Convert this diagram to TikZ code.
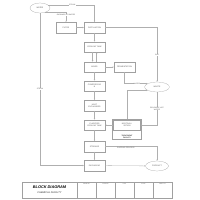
\documentclass[tikz,border=0pt]{standalone}
\usepackage{fontspec}
\setmainfont{Liberation Sans}
\usepackage{tikz}
\usetikzlibrary{shapes,arrows,positioning,fit,calc}
\definecolor{linecolor}{RGB}{175,175,175}
\definecolor{boxcolor}{RGB}{160,160,160}
\definecolor{textcolor}{RGB}{85,85,85}

\begin{document}
\begin{tikzpicture}[
    x=0.1cm, y=-0.1cm,
    unit/.style={rectangle, draw=boxcolor, line width=0.6pt, fill=white, minimum width=2.1cm, minimum height=1.05cm, inner sep=1pt, align=center, text=textcolor, font=\fontsize{5.5}{6}\selectfont},
    term/.style={ellipse, draw=boxcolor, line width=0.6pt, fill=white, minimum width=2.3cm, minimum height=1cm, inner sep=0pt, text=textcolor, font=\fontsize{5.5}{6}\selectfont},
    flow/.style={->, >=stealth, linecolor, line width=0.8pt},
    tag/.style={fill=white, inner sep=0.6pt, align=center, text=textcolor, font=\fontsize{5}{5.5}\selectfont}
]
\useasboundingbox (0,0) rectangle (200,200);

% Terminals
\node[term, minimum width=2cm] (water) at (40,8) {WATER};
\node[term, minimum width=2.5cm] (waste) at (157,87) {WASTE};
\node[term] (product) at (157,166) {PRODUCT};

% Process units
\node[unit, minimum width=2cm] (filter) at (66,27.5) {FILTER};
\node[unit] (distill) at (94.5,27.5) {DISTILLATION};
\node[unit] (cooling) at (94.5,47) {COOLING TANK};
\node[unit] (mixer) at (94.5,67) {MIXER};
\node[unit] (ferment) at (124.5,67) {FERMENTATION};
\node[unit] (compress) at (94.5,86) {COMPRESSIO\\N};
\node[unit] (heatex) at (94.5,105.5) {HEAT\\EXCHANGER};
\node[unit] (clarify) at (94.5,125) {CLARIFIER\\COOLING TANK};
\node[unit] (storage) at (94.5,146.5) {STORAGE};
\node[unit] (packing) at (94.5,165.5) {PACKAGING};

% Treatment facility
\node[unit, minimum width=2.7cm] (neutral) at (127,125) {NEUTRALI-\\ZATION};
\node[tag, font=\bfseries\fontsize{5}{5.5}\selectfont, text=black!80] (treatlbl) at (127,136.5) {TREATMENT\\FACILITY};
\node[draw=boxcolor, line width=0.6pt, fit=(neutral)(treatlbl), inner sep=2.5pt] (treat) {};

% Flows
\draw[flow] (water.20) -| (distill.north) node[tag, pos=0.26] {STEAM};
\draw[flow] (water.-40) -| (filter.north) node[tag, pos=0.65] {GARBAGE OR WATER};
\draw[flow] (water.south) |- (packing.west) node[tag, pos=0.25] {STEAM};
\draw[flow] (filter) -- (distill);
\draw[flow] (distill.east) -| (waste.north) node[tag, pos=0.75] {GAS};
\draw[flow] (distill) -- (cooling);
\draw[flow] ([xshift=-5.5]cooling.south) -- ([xshift=-5.5]mixer.north);
\draw[flow] ([xshift=6]mixer.north) -- ([xshift=6]cooling.south);
\draw[flow] (mixer) -- (ferment);
\draw[flow] (ferment.south) |- (waste.160) node[tag, pos=0.77] {WATER};
\draw[flow] (mixer) -- (compress);
\draw[flow] (compress) -- (heatex);
\draw[flow] (heatex) -- (clarify);
\draw[flow] (treat.north) |- (waste.200);
\draw[flow] (waste.south) |- (neutral.east) node[tag, pos=0.25] {REUSABLE HOT\\WATER};
\draw[flow] (neutral.west) -- (clarify.east);
\draw[flow] (clarify) -- (storage);
\draw[flow] (storage.east) -| (product.north) node[tag, pos=0.2, below=1pt] {SHIPPING PROCESS};
\draw[flow] (storage) -- (packing);
\draw[flow] (packing) -- (product);

% Title block
\draw[boxcolor, line width=0.6pt] (22,182) rectangle (172,198);
\node[font=\bfseries\itshape\fontsize{11}{12}\selectfont] (title) at (49.5,187) {BLOCK DIAGRAM};
\node[font=\itshape\fontsize{7}{8}\selectfont, text=black!85] (subtitle) at (49.5,193) {CHEMICAL FACILITY};
\foreach \x/\t in {77/DRAWN BY, 96/CHECKED, 115/DATE, 134/SCALE, 153/SHEET NO.} {
    \draw[boxcolor, line width=0.6pt] (\x,182) -- (\x,198);
    \node[text=textcolor, font=\fontsize{3.5}{4}\selectfont] at (\x+9.5,184.5) {\t};
}

\end{tikzpicture}
\end{document}
